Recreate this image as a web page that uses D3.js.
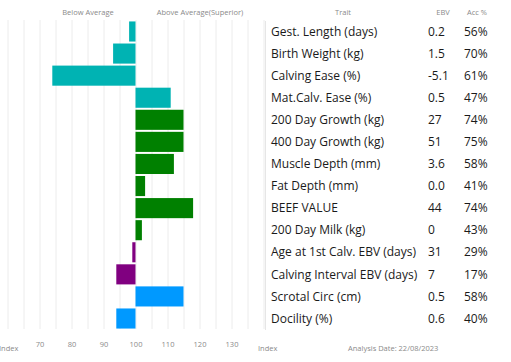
<!DOCTYPE html>
<html>
<head>
<meta charset="utf-8">
<script src="https://cdn.jsdelivr.net/npm/d3@7"></script>
<style>
  body { margin: 0; background: #fff; }
  svg { display: block; }
</style>
</head>
<body>
<div id="chart"></div>
<script>
'use strict';

// Data
const traits = [
    'Gest. Length (days)', 'Birth Weight (kg)', 'Calving Ease (%)', 'Mat.Calv. Ease (%)',
    '200 Day Growth (kg)', '400 Day Growth (kg)', 'Muscle Depth (mm)', 'Fat Depth (mm)',
    'BEEF VALUE', '200 Day Milk (kg)', 'Age at 1st Calv. EBV (days)',
    'Calving Interval EBV (days)', 'Scrotal Circ (cm)', 'Docility (%)'
];
const ebv = ['0.2', '1.5', '-5.1', '0.5', '27', '51', '3.6', '0.0', '44', '0', '31', '7', '0.5', '0.6'];
const acc = ['56%', '70%', '61%', '47%', '74%', '75%', '58%', '41%', '74%', '43%', '29%', '17%', '58%', '40%'];
const indexValues = [98, 93, 74, 111, 115, 115, 112, 103, 118, 102, 99, 94, 115, 94];
const groups = ['calving', 'calving', 'calving', 'calving', 'growth', 'growth', 'growth', 'growth',
    'growth', 'growth', 'fertility', 'fertility', 'other', 'other'];
const tickValues = [70, 80, 90, 100, 110, 120, 130];
const analysisDate = '22/08/2023';

const settings = {
    width: 511,
    height: 362
};

const colors = {
    calving: '#00b3b3',
    growth: '#008000',
    fertility: '#800080',
    other: '#0099ff'
};

const x = d3.scaleLinear().domain([60, 140]).range([7.5, 263.5]);
const y = d3.scaleBand().domain(d3.range(traits.length)).range([21, 329]).paddingInner(0.09).paddingOuter(0.02);

const svg = d3.select('#chart')
    .append('svg')
    .attr('width', settings.width)
    .attr('height', settings.height);

// grid lines every 5 index points
svg.append('g')
    .selectAll('line')
    .data(d3.range(60, 141, 5))
    .join('line')
    .attr('x1', d => x(d) + 0.5)
    .attr('x2', d => x(d) + 0.5)
    .attr('y1', 20)
    .attr('y2', 329)
    .attr('stroke', '#ececec')
    .attr('stroke-width', 1);

// bars
svg.append('g')
    .selectAll('rect')
    .data(indexValues)
    .join('rect')
    .attr('x', d => x(Math.min(d, 100)))
    .attr('width', d => Math.abs(x(d) - x(100)))
    .attr('y', (d, i) => y(i))
    .attr('height', y.bandwidth())
    .attr('fill', (d, i) => colors[groups[i]]);

const smallText = (sel) => sel
    .attr('font-family', 'Open Sans, sans-serif')
    .attr('font-size', '7.5px')
    .attr('fill', '#8a8a8a');

// headers
svg.append('text').text('Below Average').attr('x', 88).attr('y', 15).attr('text-anchor', 'middle').call(smallText);
svg.append('text').text('Above Average(Superior)').attr('x', 200).attr('y', 15).attr('text-anchor', 'middle').call(smallText);
svg.append('text').text('Trait').attr('x', 343).attr('y', 15).attr('text-anchor', 'middle').call(smallText);
svg.append('text').text('EBV').attr('x', 443).attr('y', 15).attr('text-anchor', 'middle').call(smallText);
svg.append('text').text('Acc %').attr('x', 477).attr('y', 15).attr('text-anchor', 'middle').call(smallText);

// x axis labels
const axis = d3.axisBottom(x).tickValues(tickValues).tickSize(0).tickPadding(0);
const axisG = svg.append('g')
    .attr('transform', 'translate(0,344)')
    .call(axis);
axisG.select('.domain').remove();
axisG.selectAll('text').call(smallText).attr('dy', '0.35em');

svg.append('text').text('Index').attr('x', -1).attr('y', 351).call(smallText);
svg.append('text').text('Index').attr('x', 258).attr('y', 351).call(smallText);
svg.append('text').text('Analysis Date: ' + analysisDate).attr('x', 348).attr('y', 351).call(smallText);

// table border
svg.append('line')
    .attr('x1', 265.5).attr('x2', 265.5)
    .attr('y1', 21).attr('y2', 330)
    .attr('stroke', '#e6e6e6');

// table rows
const rows = svg.append('g')
    .selectAll('g')
    .data(traits)
    .join('g')
    .attr('transform', (d, i) => `translate(0,${y(i) + y.bandwidth() / 2})`);

const rowText = (sel) => sel
    .attr('font-family', 'Open Sans, sans-serif')
    .attr('font-size', '12px')
    .attr('fill', '#1a1a1a')
    .attr('dy', '0.35em');

rows.append('text').text(d => d).attr('x', 271).call(rowText);
rows.append('text').text((d, i) => ebv[i]).attr('x', 428).call(rowText);
rows.append('text').text((d, i) => acc[i]).attr('x', 464).call(rowText);
</script>
</body>
</html>
